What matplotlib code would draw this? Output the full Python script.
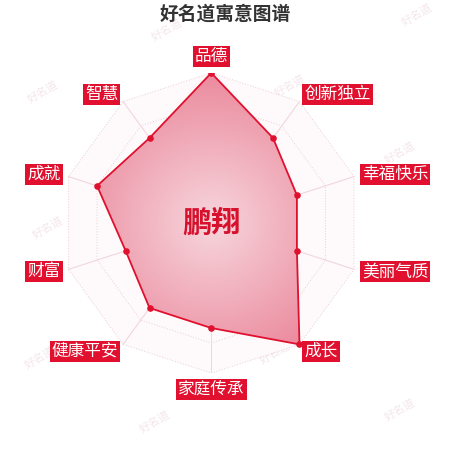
import numpy as np
import matplotlib
matplotlib.use('Agg')
import matplotlib.pyplot as plt
from matplotlib.patches import Polygon

plt.rcParams['font.family'] = ['Noto Sans CJK SC', 'DejaVu Sans']

title = '好名道寓意图谱'
name = '鹏翔'
dims = ['品德', '创新独立', '幸福快乐', '美丽气质', '成长',
        '家庭传承', '健康平安', '财富', '成就', '智慧']
scores = [100, 70, 60, 60, 100, 70, 70, 60, 80, 70]
max_score = 100
rings = 5
watermark = '好名道'

red = '#e0102e'

fig = plt.figure(figsize=(4.5, 4.5), dpi=100)
fig.patch.set_facecolor('white')

# faint watermarks (pixel spots from the top-left), kept under the axes
wm_spots = [(43, 92), (167, 30), (290, 86), (417, 15), (48, 228),
            (400, 153), (40, 358), (155, 422), (275, 353), (400, 410)]
for px, py in wm_spots:
    fig.text(px / 450, 1 - py / 450, watermark, ha='center', va='center',
             rotation=30, fontsize=8, color='#f4e6e9', zorder=-5)

fig.text(0.5, 1 - 14 / 450, title, ha='center', va='center',
         fontsize=13.5, fontweight='bold', color='#333333')

ax = fig.add_axes([0.136, 0.171, 0.667, 0.667])
ax.set_xlim(-max_score, max_score)
ax.set_ylim(-max_score, max_score)
ax.set_aspect('equal')
ax.axis('off')

n = len(dims)
theta = np.pi / 2 - np.arange(n) * 2 * np.pi / n
ux, uy = np.cos(theta), np.sin(theta)

# grid
outer = np.column_stack([ux, uy]) * max_score
ax.add_patch(Polygon(outer, closed=True, facecolor='#fefafb',
                     edgecolor='none', zorder=0))
for k in range(1, rings + 1):
    r = max_score * k / rings
    ax.plot(np.append(ux, ux[0]) * r, np.append(uy, uy[0]) * r,
            color='#ebcdd4', lw=0.7, ls=(0, (1, 1.8)), zorder=1)
for i in range(n):
    ax.plot([0, ux[i] * max_score], [0, uy[i] * max_score],
            color='#f1d6dc', lw=0.8, zorder=1)

# data polygon with radial gradient fill
vals = np.array(scores, dtype=float)
xs, ys = ux * vals, uy * vals
g = np.linspace(-max_score, max_score, 400)
X, Y = np.meshgrid(g, g)
R = np.clip(np.hypot(X, Y) / max_score, 0, 1)[..., None]
c0 = np.array([247, 214, 221]) / 255
c1 = np.array([235, 138, 157]) / 255
rgb = c0 + (c1 - c0) * R
im = ax.imshow(rgb, extent=(-max_score, max_score, -max_score, max_score),
               origin='lower', zorder=2, interpolation='bilinear')
poly = Polygon(np.column_stack([xs, ys]), closed=True,
               facecolor='none', edgecolor='none')
ax.add_patch(poly)
im.set_clip_path(poly)
ax.set_xlim(-max_score, max_score)
ax.set_ylim(-max_score, max_score)

ax.plot(np.append(xs, xs[0]), np.append(ys, ys[0]), color=red, lw=1.3, zorder=3)
ax.scatter(xs, ys, s=14, color=red, zorder=4)

ax.text(0, 0, name, ha='center', va='center', fontsize=21,
        fontweight='bold', color='#d7102c', zorder=5)

# axis name labels
lr = max_score * 1.055
for i, d in enumerate(dims):
    if abs(ux[i]) < 0.01:
        ha = 'center'
    else:
        ha = 'left' if ux[i] > 0 else 'right'
    if uy[i] > 0.99:
        va = 'bottom'
    elif uy[i] < -0.99:
        va = 'top'
    else:
        va = 'center'
    ax.text(ux[i] * lr, uy[i] * lr, d, ha=ha, va=va, fontsize=12,
            color='white', zorder=6,
            bbox=dict(boxstyle='square,pad=0.12', fc=red, ec='none'))

fig.savefig('out.png', dpi=100)
